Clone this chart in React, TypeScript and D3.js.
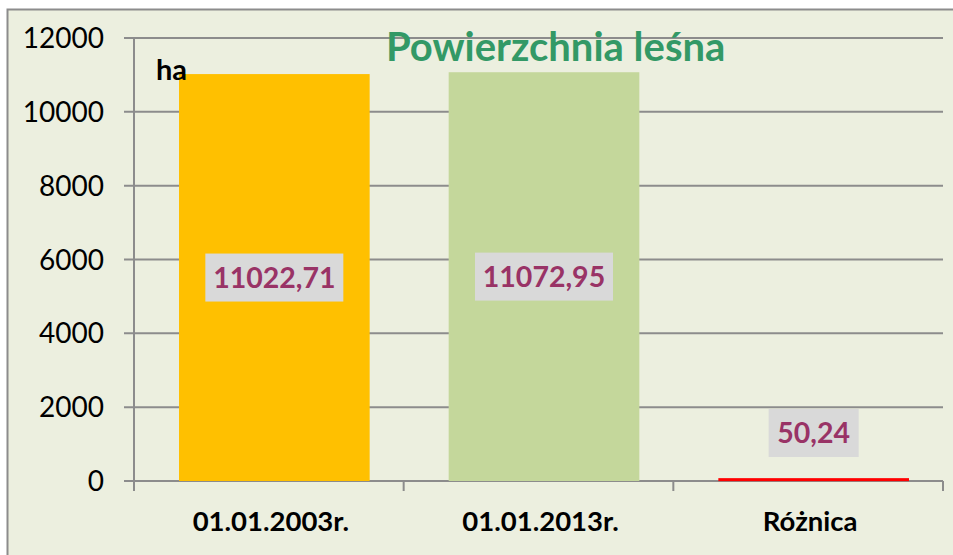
import React from "react";
import * as d3 from "d3";

const categories = ["01.01.2003r.", "01.01.2013r.", "Różnica"];
const values = [11022.71, 11072.95, 50.24];
const valueLabels = ["11022,71", "11072,95", "50,24"];
const barColors = ["#FFC000", "#C4D79B", "#FF0000"];
const yTicks = [0, 2000, 4000, 6000, 8000, 10000, 12000];

const W = 953;
const H = 555;
const left = 134;
const right = 943;
const top = 38;
const bottom = 481;
const FONT = "Lato, 'Open Sans', sans-serif";

export default function App() {
  const x = d3.scaleBand<string>().domain(categories).range([left, right]).paddingInner(0.293).paddingOuter(0.1465);
  const y = d3.scaleLinear().domain([0, 12000]).range([bottom, top]);
  const bw = x.bandwidth();
  const step = x.step();
  return (
    <svg width={W} height={H} style={{ position: "absolute", left: 0, top: 0 }}>
      <rect x={0} y={0} width={W} height={H} fill="#ffffff" />
      <rect x={7.5} y={9.5} width={W + 20} height={H + 20} fill="#ECEFDF" stroke="#8c8c8c" strokeWidth={2} />
      {yTicks.map((t) => (
        <g key={t}>
          <line x1={left - 10} x2={right} y1={y(t)} y2={y(t)} stroke="#8c8c8c" strokeWidth={2} />
          <text x={104} y={y(t) + 10} textAnchor="end" fontFamily={FONT} fontSize={28} fill="#000">
            {t}
          </text>
        </g>
      ))}
      <line x1={left} x2={left} y1={top} y2={bottom + 10} stroke="#8c8c8c" strokeWidth={2} />
      {categories.map((c, i) => (
        <line key={c} x1={left + step * (i + 1)} x2={left + step * (i + 1)} y1={bottom} y2={bottom + 10} stroke="#8c8c8c" strokeWidth={2} />
      ))}
      {categories.map((c, i) => {
        const bx = (x(c) as number) + 5.5;
        const by = y(values[i]);
        const h = bottom - by;
        const cx = bx + bw / 2;
        const ly = i === 2 ? 433 : by + h / 2;
        const lw = i === 2 ? 90 : 138;
        return (
          <g key={c}>
            <rect x={bx} y={i === 2 ? by - 1 : by} width={bw} height={i === 2 ? Math.max(h, 3) : h} fill={barColors[i]} />
            <rect x={cx - lw / 2} y={ly - 24} width={lw} height={48} fill="#D9D9D9" />
            <text x={cx} y={ly + 10} textAnchor="middle" fontFamily={FONT} fontWeight="bold" fontSize={28.5} fill="#993366">
              {valueLabels[i]}
            </text>
            <text x={left + step * (i + 0.5) + 2} y={531} textAnchor="middle" fontFamily={FONT} fontWeight="bold" fontSize={27.5} fill="#000">
              {c}
            </text>
          </g>
        );
      })}
      <text x={156} y={80} fontFamily={FONT} fontWeight="bold" fontSize={29} fill="#000">ha</text>
      <text x={386} y={61} fontFamily={FONT} fontWeight="bold" fontSize={40} fill="#339966">Powierzchnia leśna</text>
    </svg>
  );
}
